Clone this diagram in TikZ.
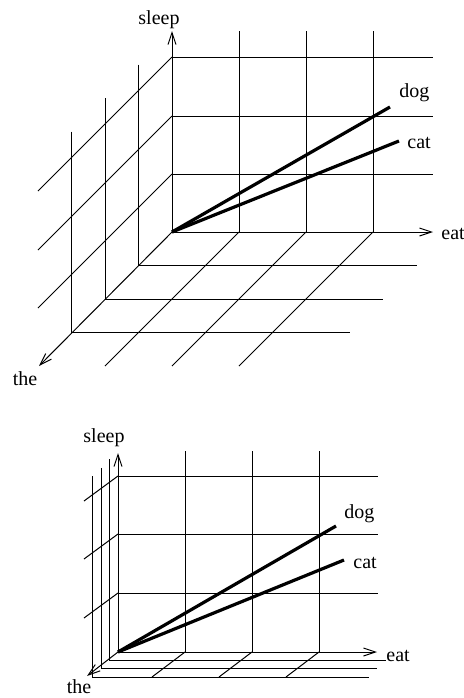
\documentclass[tikz,border=0pt]{standalone}
\usepackage{fontspec}
\setmainfont{Liberation Serif}
\usetikzlibrary{arrows.meta}
\begin{document}
\begin{tikzpicture}[x=0.5pt, y=-0.5pt]
        \tikzstyle{every node}=[inner sep=0pt, font=\fontsize{10}{12}\selectfont]
        \tikzstyle{grid}=[line width=0.5pt]
        \tikzstyle{axis}=[line width=0.5pt, -{Straight Barb[length=6pt, width=4pt]}]
        \tikzstyle{word}=[line width=1.6pt]
        \useasboundingbox (0,0) rectangle (464,698);
        % upper space: the axis seen at full depth
        \coordinate (o)     at (172, 232);
        \coordinate (up)    at (172, 31);
        \coordinate (right) at (433, 232);
        \coordinate (front) at (39,  366);
        \coordinate (dogv)  at (390, 107);
        \coordinate (catv)  at (399, 141);
        \foreach \x in {239,306,373} \draw[grid] (\x,31) -- (\x,232);
        \foreach \y in {57,116,174} \draw[grid] (172,\y) -- (433,\y);
        \foreach \d in {1,2,3}
            \draw[grid] (172-33.5*\d, 31+33.5*\d) -- (172-33.5*\d, 232+33.5*\d) -- (450-33.5*\d, 232+33.5*\d);
        \foreach \y in {57,116,174} \draw[grid] (172,\y) -- ++(-134,134);
        \foreach \x in {239,306,373} \draw[grid] (\x,232) -- ++(-134,134);
        \draw[axis] (o) -- (up);
        \draw[axis] (o) -- (right);
        \draw[axis] (o) -- (front);
        \draw[word] (o) -- (dogv);
        \draw[word] (o) -- (catv);
        \node[anchor=base]      (sleep) at (159, 24)  {sleep};
        \node[anchor=base west] (eat)   at (441, 239) {eat};
        \node[anchor=base]      (the)   at (25,  385) {the};
        \node[anchor=base west] (dog)   at (399, 97)  {dog};
        \node[anchor=base west] (cat)   at (407, 148) {cat};
        % lower space: the axis squashed
        \coordinate (o2)     at (118, 652);
        \coordinate (up2)    at (118, 453);
        \coordinate (right2) at (377, 652);
        \coordinate (front2) at (87,  676);
        \coordinate (dogv2)  at (336, 526);
        \coordinate (catv2)  at (344, 560);
        \foreach \x in {185,252,319} \draw[grid] (\x,451) -- (\x,652);
        \foreach \y in {476,534,593} \draw[grid] (118,\y) -- (378,\y);
        \foreach \d in {1,2,3}
            \draw[grid] (118-8.4*\d, 451+8.4*\d) -- (118-8.4*\d, 652+8.4*\d) -- (394-8.4*\d, 652+8.4*\d);
        \foreach \y in {476,534,593} \draw[grid] (118,\y) -- ++(-34,25);
        \foreach \x in {185,252,319} \draw[grid] (\x,652) -- ++(-33,25);
        \draw[axis] (o2) -- (up2);
        \draw[axis] (o2) -- (right2);
        \draw[axis] (o2) -- (front2);
        \draw[word] (o2) -- (dogv2);
        \draw[word] (o2) -- (catv2);
        \node[anchor=base]      (sleep2) at (104, 442) {sleep};
        \node[anchor=base west] (eat2)   at (386, 661) {eat};
        \node[anchor=base]      (the2)   at (79,  693) {the};
        \node[anchor=base west] (dog2)   at (344, 518) {dog};
        \node[anchor=base west] (cat2)   at (353, 568) {cat};
\end{tikzpicture}
\end{document}
